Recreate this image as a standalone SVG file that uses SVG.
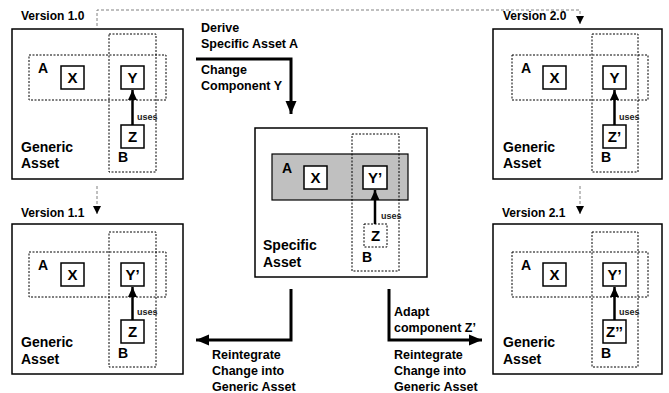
<svg xmlns="http://www.w3.org/2000/svg" width="669" height="393" viewBox="0 0 669 393">
<defs>
<style>
text{font-family:"Liberation Sans",Arial,sans-serif;font-weight:bold;fill:#000}
.outer{fill:#fff;stroke:#000;stroke-width:1.5}
.dot{fill:none;stroke:#000;stroke-width:1;stroke-dasharray:2,1.5}
.comp{fill:#fff;stroke:#000;stroke-width:1.5}
.compd{fill:#fff;stroke:#000;stroke-width:1;stroke-dasharray:2,1.5}
.ver{font-size:12px}
.big{font-size:14px}
.lbl{font-size:14px}
.cl{font-size:15px;text-anchor:middle}
.uses{font-size:9px;font-weight:bold;fill:#222}
.usesline{stroke:#000;stroke-width:2.5;fill:none}
.thick{stroke:#000;stroke-width:3;fill:none}
.vline{stroke:#808080;stroke-width:1;stroke-dasharray:3,2;fill:none}
.cap{font-size:12.5px}
</style>
<marker id="ah" markerUnits="userSpaceOnUse" markerWidth="14" markerHeight="14" viewBox="0 0 14 14" refX="13" refY="7" orient="auto">
<path d="M0,1.5 L13,7 L0,12.5 Z" fill="#000"/>
</marker>
<marker id="ahs" markerUnits="userSpaceOnUse" markerWidth="11" markerHeight="10" viewBox="0 0 11 10" refX="10" refY="5" orient="auto">
<path d="M0,0.5 L10,5 L0,9.5 Z" fill="#000"/>
</marker>
<marker id="ahv" markerUnits="userSpaceOnUse" markerWidth="9" markerHeight="9" viewBox="0 0 9 9" refX="8" refY="4.5" orient="auto">
<path d="M0,0.5 L8,4.5 L0,8.5 Z" fill="#000"/>
</marker>
</defs>

<g id="version-1-0">
<text class="ver" x="21" y="20">Version 1.0</text>
<rect class="outer" x="12" y="29" width="171" height="150"/>
<rect class="dot" x="29" y="55" width="137" height="45"/>
<rect class="dot" x="109" y="34" width="47" height="138"/>
<text class="lbl" x="38" y="73">A</text>
<text class="lbl" x="118" y="162">B</text>
<rect class="comp" x="61" y="66" width="23" height="23"/>
<text class="cl" x="72.5" y="83">X</text>
<rect class="comp" x="121" y="66" width="23" height="23"/>
<text class="cl" x="132.5" y="83">Y</text>
<rect class="comp" x="121" y="125" width="23" height="23"/>
<text class="cl" x="132.5" y="142">Z</text>
<line class="usesline" x1="132.5" y1="125" x2="132.5" y2="90" marker-end="url(#ahs)"/>
<text class="uses" x="137" y="120">uses</text>
<text class="big" x="21" y="152">Generic</text>
<text class="big" x="21" y="168">Asset</text>
</g>

<g id="version-2-0">
<text class="ver" x="503" y="20">Version 2.0</text>
<rect class="outer" x="493" y="29" width="169" height="150"/>
<rect class="dot" x="512" y="55" width="136" height="45"/>
<rect class="dot" x="592" y="34" width="46" height="138"/>
<text class="lbl" x="521" y="73">A</text>
<text class="lbl" x="601" y="162">B</text>
<rect class="comp" x="543" y="66" width="23" height="23"/>
<text class="cl" x="554.5" y="83">X</text>
<rect class="comp" x="603" y="66" width="23" height="23"/>
<text class="cl" x="614.5" y="83">Y</text>
<rect class="comp" x="603" y="125" width="23" height="23"/>
<text class="cl" x="614.5" y="142">Z’</text>
<line class="usesline" x1="614.5" y1="125" x2="614.5" y2="90" marker-end="url(#ahs)"/>
<text class="uses" x="619" y="120">uses</text>
<text class="big" x="503" y="152">Generic</text>
<text class="big" x="503" y="168">Asset</text>
</g>

<g id="version-1-1">
<text class="ver" x="21" y="217">Version 1.1</text>
<rect class="outer" x="12" y="224" width="171" height="150"/>
<rect class="dot" x="29" y="252" width="137" height="45"/>
<rect class="dot" x="109" y="232" width="47" height="135"/>
<text class="lbl" x="38" y="270">A</text>
<text class="lbl" x="118" y="358">B</text>
<rect class="comp" x="61" y="263" width="23" height="23"/>
<text class="cl" x="72.5" y="280">X</text>
<rect class="comp" x="121" y="263" width="23" height="23"/>
<text class="cl" x="132.5" y="280">Y’</text>
<rect class="comp" x="121" y="320" width="23" height="23"/>
<text class="cl" x="132.5" y="337">Z</text>
<line class="usesline" x1="132.5" y1="320" x2="132.5" y2="287" marker-end="url(#ahs)"/>
<text class="uses" x="137" y="315">uses</text>
<text class="big" x="21" y="347">Generic</text>
<text class="big" x="21" y="364">Asset</text>
</g>

<g id="version-2-1">
<text class="ver" x="502" y="217">Version 2.1</text>
<rect class="outer" x="493" y="224" width="169" height="150"/>
<rect class="dot" x="512" y="252" width="136" height="45"/>
<rect class="dot" x="592" y="232" width="46" height="135"/>
<text class="lbl" x="521" y="270">A</text>
<text class="lbl" x="601" y="358">B</text>
<rect class="comp" x="543" y="263" width="23" height="23"/>
<text class="cl" x="554.5" y="280">X</text>
<rect class="comp" x="603" y="263" width="23" height="23"/>
<text class="cl" x="614.5" y="280">Y’</text>
<rect class="comp" x="603" y="320" width="23" height="23"/>
<text class="cl" x="614.5" y="337">Z’’</text>
<line class="usesline" x1="614.5" y1="320" x2="614.5" y2="287" marker-end="url(#ahs)"/>
<text class="uses" x="619" y="315">uses</text>
<text class="big" x="503" y="347">Generic</text>
<text class="big" x="503" y="364">Asset</text>
</g>

<g id="specific-asset">
<rect class="outer" x="255" y="128" width="172" height="149"/>
<rect x="272" y="154" width="136" height="46" fill="#c0c0c0" stroke="#000" stroke-width="1.2"/>
<rect class="dot" x="352" y="134" width="47" height="137"/>
<text class="lbl" x="282" y="173">A</text>
<text class="lbl" x="362" y="262">B</text>
<rect class="comp" x="304" y="166" width="23" height="23"/>
<text class="cl" x="315.5" y="183">X</text>
<rect class="comp" x="363" y="166" width="24" height="23"/>
<text class="cl" x="375" y="183">Y’</text>
<rect class="compd" x="364" y="224" width="23" height="23"/>
<text class="cl" x="375.5" y="241">Z</text>
<line class="usesline" x1="375" y1="224" x2="375" y2="190" marker-end="url(#ahs)"/>
<text class="uses" x="381" y="219">uses</text>
<text class="big" x="263" y="250">Specific</text>
<text class="big" x="263" y="267">Asset</text>
</g>

<g id="connectors">
<path class="vline" d="M97,26 V10 H580 V24" marker-end="url(#ahv)"/>
<path class="vline" d="M97,186 V214" marker-end="url(#ahv)"/>
<path class="vline" d="M580,186 V214" marker-end="url(#ahv)"/>
<path class="thick" d="M196,59 H291 V114" marker-end="url(#ah)"/>
<path class="thick" d="M291,289 V340 H196" marker-end="url(#ah)"/>
<path class="thick" d="M389,289 V340 H482" marker-end="url(#ah)"/>
<text class="cap" x="201" y="32">Derive</text>
<text class="cap" x="201" y="48">Specific Asset A</text>
<text class="cap" x="201" y="74">Change</text>
<text class="cap" x="201" y="90">Component Y</text>
<text class="cap" x="212" y="359">Reintegrate</text>
<text class="cap" x="212" y="375">Change into</text>
<text class="cap" x="212" y="391">Generic Asset</text>
<text class="cap" x="394" y="316">Adapt</text>
<text class="cap" x="394" y="332">component Z’</text>
<text class="cap" x="394" y="359">Reintegrate</text>
<text class="cap" x="394" y="375">Change into</text>
<text class="cap" x="394" y="391">Generic Asset</text>
</g>
</svg>
